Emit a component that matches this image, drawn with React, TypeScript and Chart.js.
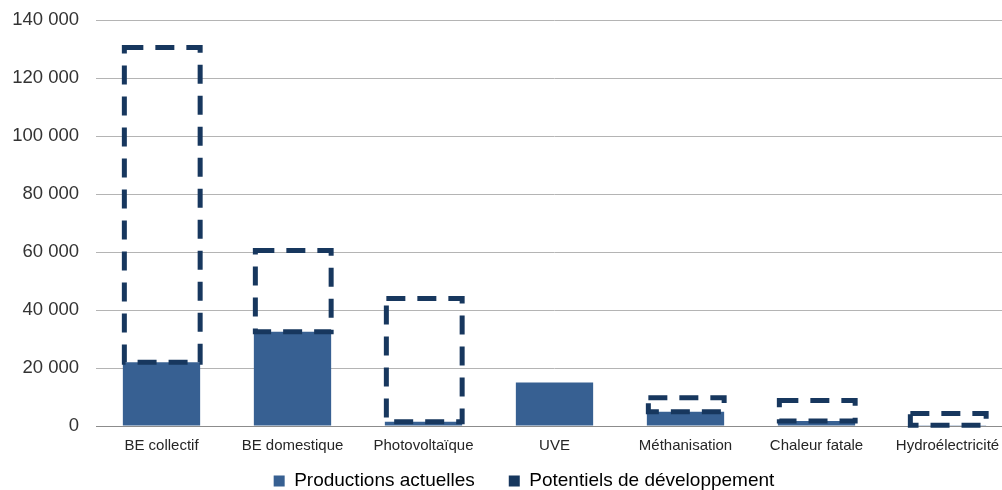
import React, { useEffect, useRef } from "react";
import { Chart, registerables } from "chart.js";

Chart.register(...registerables);

const categories = [
  "BE collectif",
  "BE domestique",
  "Photovoltaïque",
  "UVE",
  "Méthanisation",
  "Chaleur fatale",
  "Hydroélectricité",
];
const productionsActuelles = [22000, 32500, 1500, 15000, 4900, 1700, 300];
const potentielsDeveloppement = [108500, 28000, 42500, 0, 4800, 7100, 4000];
const seriesNames = ["Productions actuelles", "Potentiels de développement"];
const yTicksMax = 140000;
const yTickStep = 20000;

const FILL = "#376092";
const DASH = "#17375E";
const FONT = "'Liberation Sans', Arial, sans-serif";
const W = 1013;
const H = 490;

const fmt = (v: number) => String(v).replace(/\B(?=(\d{3})+(?!\d))/g, " ");

const dashedPlugin = {
  id: "dashedPotentials",
  afterDatasetsDraw(chart: any) {
    const meta = chart.getDatasetMeta(1);
    const ctx = chart.ctx;
    ctx.save();
    ctx.strokeStyle = DASH;
    ctx.lineWidth = 5;
    ctx.setLineDash([19, 12]);
    ctx.lineJoin = "miter";
    meta.data.forEach((el: any, i: number) => {
      const v = potentielsDeveloppement[i];
      if (!v) return;
      const p = el.getProps(["x", "y", "base", "width"], true);
      const left = p.x - p.width / 2 + 1.5;
      const right = p.x + p.width / 2;
      const top = Math.min(p.y, p.base);
      const bottom = Math.max(p.y, p.base);
      ctx.beginPath();
      ctx.moveTo(left, top);
      ctx.lineTo(right, top);
      ctx.lineTo(right, bottom);
      ctx.lineTo(left, bottom);
      ctx.closePath();
      ctx.stroke();
    });
    ctx.restore();
  },
};

// Places the legend lower/right and lets the x labels use the space under the axis.
const boxPlacer = {
  id: "boxPlacer",
  afterLayout(chart: any) {
    const x = chart.scales.x;
    if (x) {
      x.bottom = H;
      x.height = H - x.top;
    }
    const lg = chart.legend;
    if (lg) {
      const h = lg.height;
      lg.left = 24;
      lg.right = 1024;
      lg.width = 1000;
      lg.top = 437.5;
      lg.bottom = lg.top + h;
    }
  },
};

export default function App() {
  const ref = useRef<HTMLCanvasElement | null>(null);
  useEffect(() => {
    if (!ref.current) return;
    const chart = new Chart(ref.current, {
      type: "bar",
      data: {
        labels: categories,
        datasets: [
          {
            label: seriesNames[0],
            data: productionsActuelles,
            backgroundColor: FILL,
            borderWidth: 0,
            barPercentage: 0.59,
            categoryPercentage: 1,
          },
          {
            label: seriesNames[1],
            data: potentielsDeveloppement,
            backgroundColor: "rgba(0,0,0,0)",
            borderWidth: 0,
            barPercentage: 0.59,
            categoryPercentage: 1,
          },
        ],
      },
      options: {
        animation: false,
        responsive: false,
        maintainAspectRatio: false,
        layout: { padding: { top: 20, left: 0, right: 0, bottom: 0 } },
        plugins: {
          tooltip: { enabled: false },
          legend: {
            position: "bottom",
            labels: {
              font: { family: FONT, size: 19 },
              color: "#262626",
              boxWidth: 11,
              boxHeight: 11,
              padding: 34,
              generateLabels: () => [
                { text: seriesNames[0], fillStyle: FILL, strokeStyle: FILL, lineWidth: 0, datasetIndex: 0 } as any,
                { text: seriesNames[1], fillStyle: DASH, strokeStyle: DASH, lineWidth: 0, datasetIndex: 1 } as any,
              ],
            },
          },
        },
        scales: {
          x: {
            stacked: true,
            grid: { display: false, drawTicks: false },
            border: { display: true, color: "#8c8c8c", width: 1 },
            ticks: {
              font: { family: FONT, size: 15 },
              color: "#262626",
              padding: 11,
              maxRotation: 0,
              autoSkip: false,
            },
            afterFit: (s: any) => {
              s.height = 1;
              s.paddingLeft = 0;
              s.paddingRight = 0;
            },
          },
          y: {
            stacked: true,
            min: 0,
            max: yTicksMax,
            grid: { color: "#b4b4b4", drawTicks: false, lineWidth: 1 },
            border: { display: false },
            ticks: {
              stepSize: yTickStep,
              font: { family: FONT, size: 18.5 },
              color: "#333333",
              padding: 17,
              callback: (v: any) => fmt(Number(v)),
            },
            afterFit: (s: any) => {
              s.width = 96;
              s.paddingTop = 0;
              s.paddingBottom = 0;
            },
          },
        },
      },
      plugins: [dashedPlugin, boxPlacer],
    });
    return () => chart.destroy();
  }, []);
  return (
    <div style={{ position: "fixed", left: 0, top: 0, width: W, height: H, background: "#fff" }}>
      <canvas ref={ref} width={W} height={H} style={{ width: W, height: H, display: "block" }} />
    </div>
  );
}
